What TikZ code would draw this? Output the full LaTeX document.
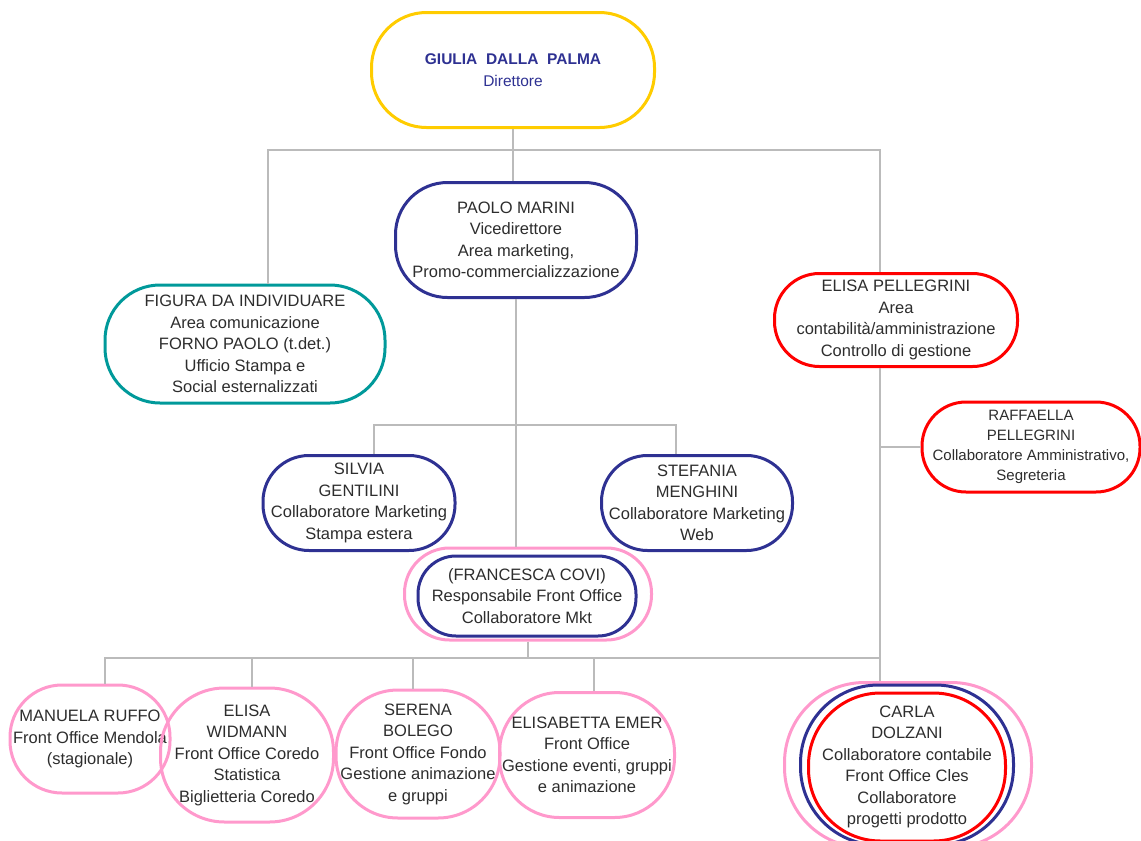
\documentclass[tikz,border=0pt]{standalone}
\usepackage{fontspec}
\setmainfont{Liberation Sans}
\definecolor{navy}{RGB}{46,49,146}
\definecolor{gold}{RGB}{255,204,0}
\definecolor{tealline}{RGB}{0,153,154}
\definecolor{redline}{RGB}{255,0,0}
\definecolor{pinkline}{RGB}{255,153,204}
\definecolor{wire}{RGB}{187,187,187}
\definecolor{txt}{RGB}{45,45,45}
\begin{document}
\begin{tikzpicture}[x=1pt, y=-1pt,
            every node/.style = {align=center, inner sep=0pt, text=txt,
                                 font=\fontsize{16.5}{21.5}\selectfont},
            pill/.style n args={3}{draw, line width=3pt, minimum width=#1pt,
                                   minimum height=#2pt, rounded corners=#3pt},
            wire/.style = {draw=wire, line width=1.8pt}
        ]
        \useasboundingbox (0,0) rectangle (1141,841);

        \node[pill={283}{115}{55}, draw=gold, text=navy, font=\fontsize{15.5}{22}\selectfont] (dir) at (513,70)
            {{\bfseries GIULIA\ \ DALLA\ \ PALMA}\\Direttore};
        \node[pill={241}{115}{52}, draw=navy] (marini) at (516,240)
            {PAOLO MARINI\\Vicedirettore\\Area marketing,\\Promo-commercializzazione};
        \node[pill={280}{118}{55}, draw=tealline] (figura) at (245,344)
            {FIGURA DA INDIVIDUARE\\Area comunicazione\\FORNO PAOLO (t.det.)\\Ufficio Stampa e\\Social esternalizzati};
        \node[pill={243}{93}{45}, draw=redline] (pell) at (896,320)
            {ELISA PELLEGRINI\\Area\\contabilità/amministrazione\\Controllo di gestione};
        \node[pill={218}{90}{44}, draw=redline, font=\fontsize{15}{20}\selectfont] (raff) at (1031,447)
            {RAFFAELLA\\PELLEGRINI\\Collaboratore Amministrativo,\\Segreteria};
        \node[pill={192}{95}{46}, draw=navy] (silvia) at (359,503)
            {SILVIA\\GENTILINI\\Collaboratore Marketing\\Stampa estera};
        \node[pill={191}{95}{46}, draw=navy] (stefania) at (697,503)
            {STEFANIA\\MENGHINI\\Collaboratore Marketing\\Web};
        \node[pill={247}{92}{45}, draw=pinkline] (francescaO) at (528,594) {};
        \node[pill={218}{80}{38}, draw=navy] (francesca) at (527,596)
            {(FRANCESCA COVI)\\Responsabile Front Office\\Collaboratore Mkt};
        \node[pill={160}{108}{52}, draw=pinkline] (manuela) at (90,739)
            {MANUELA RUFFO\\Front Office Mendola\\(stagionale)};
        \node[pill={173}{134}{64}, draw=pinkline] (widmann) at (247,755)
            {ELISA\\WIDMANN\\Front Office Coredo\\Statistica\\Biglietteria Coredo};
        \node[pill={164}{128}{62}, draw=pinkline] (serena) at (418,754)
            {SERENA\\BOLEGO\\Front Office Fondo\\Gestione animazione\\e gruppi};
        \node[pill={175}{125}{60}, draw=pinkline] (elisabetta) at (587,755)
            {ELISABETTA EMER\\Front Office\\Gestione eventi, gruppi\\e animazione};
        \node[pill={247}{165}{80}, draw=pinkline] (carlaO) at (908,765) {};
        \node[pill={213}{160}{78}, draw=navy] (carlaM) at (907,765) {};
        \node[pill={197}{148}{72}, draw=redline] (carla) at (907,767)
            {CARLA\\DOLZANI\\Collaboratore contabile\\Front Office Cles\\Collaboratore\\progetti prodotto};

        \coordinate (topL) at (268,150);
        \coordinate (topR) at (880,150);
        \coordinate (midL) at (374,425);
        \coordinate (midR) at (676,425);
        \coordinate (lowL) at (105,658);
        \coordinate (lowR) at (880,658);

        \draw[wire] (dir.south) -- (dir.south |- marini.north);
        \draw[wire] (topL |- figura.north) -- (topL) -- (topR) -- (topR |- pell.north);
        \draw[wire] (topR |- pell.south) -- (topR |- carlaO.north);
        \draw[wire] (topR |- raff.west) -- (raff.west);
        \draw[wire] (marini.south) -- (marini.south |- francescaO.north);
        \draw[wire] (midL |- silvia.north) -- (midL) -- (midR) -- (midR |- stefania.north);
        \draw[wire] (francescaO.south) -- (francescaO.south |- lowL);
        \draw[wire] (lowL |- manuela.north) -- (lowL) -- (lowR);
        \draw[wire] ([xshift=5pt]widmann.north) -- ([xshift=5pt]widmann.north |- lowL);
        \draw[wire] ([xshift=-5pt]serena.north) -- ([xshift=-5pt]serena.north |- lowL);
        \draw[wire] ([xshift=7pt]elisabetta.north) -- ([xshift=7pt]elisabetta.north |- lowL);
\end{tikzpicture}
\end{document}
